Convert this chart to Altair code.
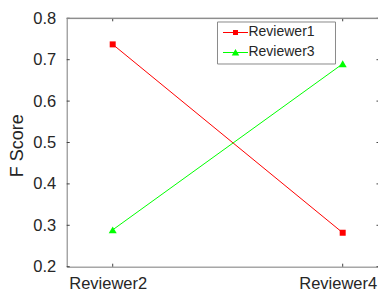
import altair as alt
import pandas as pd

# ---- data ----
categories = ["Reviewer2", "Reviewer4"]
series_names = ["Reviewer1", "Reviewer3"]
reviewer1_scores = [0.737, 0.282]
reviewer3_scores = [0.289, 0.690]
series_colors = ["#ff0000", "#00ff00"]
series_shapes = ["square", "triangle-up"]
series_sizes = [36, 64]
y_ticks = [0.2, 0.3, 0.4, 0.5, 0.6, 0.7, 0.8]
x_ticks = [1, 2]

rows = []
for name, vals in zip(series_names, [reviewer1_scores, reviewer3_scores]):
    for i, (cat, v) in enumerate(zip(categories, vals)):
        rows.append({"series": name, "pos": i + 1, "reviewer": cat, "score": v})
df = pd.DataFrame(rows)
ytick_df = pd.DataFrame({"t": y_ticks})
xtick_df = pd.DataFrame({"p": x_ticks})

W, H = 311.3, 248.4
FONT = "Liberation Sans"
TXT = "#262626"
DOM = "#8a8a8a"
TCK = "#404040"

xscale = alt.Scale(domain=[0.8, 0.8 + W / 230.0], nice=False, zero=False)
yscale = alt.Scale(domain=[0.2, 0.8], nice=False, zero=False)

label_expr = " : ".join(
    f"datum.value == {i + 1} ? '{c}'" for i, c in enumerate(categories[:-1])
) + f" : '{categories[-1]}'"

x_axis = alt.Axis(values=x_ticks, labelExpr=label_expr, title=None, ticks=False,
                  grid=False, domainColor=DOM, labelFontSize=16.5, labelColor=TXT,
                  labelPadding=9, labelFont=FONT, labelOffset=-5)
y_axis = alt.Axis(values=y_ticks, format=".1f", title="F Score", ticks=False, grid=False,
                  domainColor=DOM, labelFontSize=16.5, labelColor=TXT, labelPadding=11,
                  labelFont=FONT, titleFont=FONT, titleFontSize=18, titleFontWeight="normal",
                  titleColor=TXT, titleX=-49, titleY=127, titleBaseline="middle")

X = alt.X("pos:Q", scale=xscale, axis=x_axis)
Y = alt.Y("score:Q", scale=yscale, axis=y_axis)

layers = []
for name, col, shp, sz in zip(series_names, series_colors, series_shapes, series_sizes):
    sub = alt.Chart(df).transform_filter(alt.datum.series == name)
    layers.append(sub.mark_line(strokeWidth=1, color=col).encode(x=X, y=Y))
for name, col, shp, sz in zip(series_names, series_colors, series_shapes, series_sizes):
    sub = alt.Chart(df).transform_filter(alt.datum.series == name)
    layers.append(sub.mark_point(shape=shp, filled=True, size=sz, opacity=1, color=col)
                  .encode(x=X, y=Y))

# inward tick marks and top border of the box
YT = alt.Y("t:Q", scale=yscale, axis=y_axis)
XT = alt.X("p:Q", scale=xscale, axis=x_axis)
layers.append(alt.Chart(ytick_df).mark_rule(color=TCK, strokeWidth=1).encode(
    y=YT, x=alt.value(0), x2=alt.value(3)))
layers.append(alt.Chart(ytick_df).mark_rule(color=TCK, strokeWidth=1).encode(
    y=YT, x=alt.value(W - 1.5), x2=alt.value(W)))
layers.append(alt.Chart(xtick_df).mark_rule(color=TCK, strokeWidth=1).encode(
    x=XT, y=alt.value(H - 3), y2=alt.value(H)))
layers.append(alt.Chart(xtick_df).mark_rule(color=TCK, strokeWidth=1).encode(
    x=XT, y=alt.value(0), y2=alt.value(3)))
layers.append(alt.Chart(xtick_df).mark_rule(color=DOM, strokeWidth=1).encode(
    x=alt.value(0), x2=alt.value(W), y=alt.value(0)))

# legend (symbols: line sample + marker)
legend_paths = [
    "M-2.5,-0.1H2.5V0.1H-2.5Z M-0.5,-0.5H0.5V0.5H-0.5Z",
    "M-2.5,-0.1H2.5V0.1H-2.5Z M0,-0.7L0.75,0.6H-0.75Z",
]
leg = alt.Legend(
    title=None, orient="none", legendX=150.3, legendY=3.2,
    padding=4, strokeColor=DOM, fillColor="white", cornerRadius=0,
    symbolSize=100, symbolOffset=7.5, labelOffset=6, symbolStrokeWidth=0,
    symbolOpacity=1, labelFontSize=14, labelFont=FONT, labelColor=TXT,
    rowPadding=6,
    labelExpr="datum.label + '\u00a0\u00a0\u00a0\u00a0\u200b'")
layers.append(alt.Chart(df).mark_point(filled=True, opacity=0).encode(
    color=alt.Color("series:N", scale=alt.Scale(domain=series_names, range=series_colors),
                    legend=leg),
    shape=alt.Shape("series:N", scale=alt.Scale(domain=series_names, range=legend_paths),
                    legend=leg),
))

chart = alt.layer(*layers).properties(
    width=W, height=H,
    autosize=alt.AutoSizeParams(type="none"),
    padding={"left": 58.7, "top": 10.3, "right": 0, "bottom": 28},
).configure_view(stroke=None).configure(font=FONT)

chart.save("out.html", embed_options={"renderer": "svg", "actions": False})
